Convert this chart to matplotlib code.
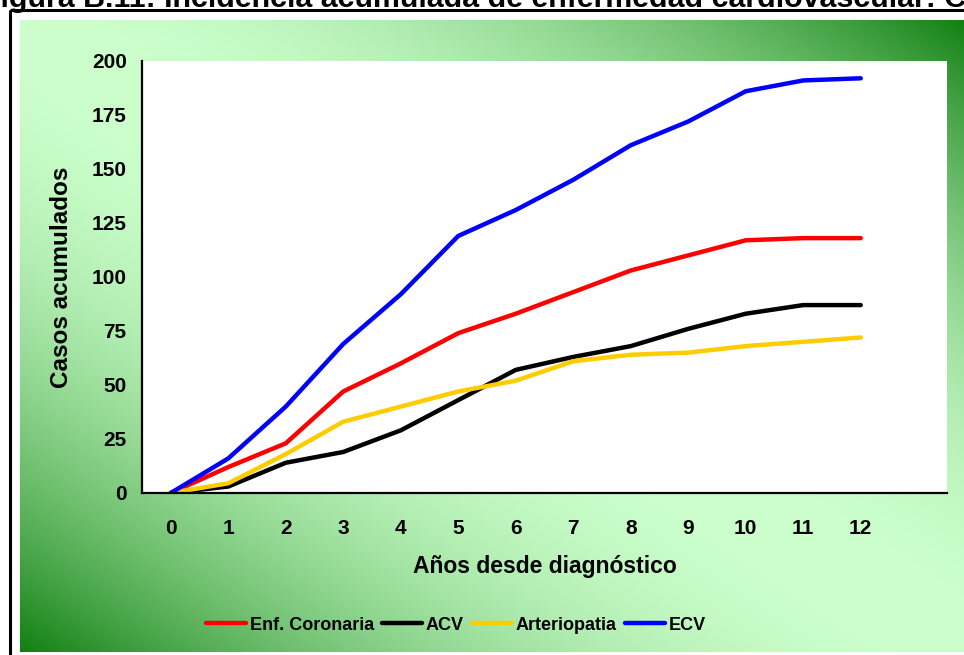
import numpy as np
import matplotlib
matplotlib.use("Agg")
import matplotlib.pyplot as plt
from matplotlib.patches import Rectangle
from matplotlib.lines import Line2D

# ---- data ----
years = [0, 1, 2, 3, 4, 5, 6, 7, 8, 9, 10, 11, 12]
year_labels = ["0", "1", "2", "3", "4", "5", "6", "7", "8", "9", "10", "11", "12"]
enf_coronaria = [0, 12, 23, 47, 60, 74, 83, 93, 103, 110, 117, 118, 118]
acv = [0, 3, 14, 19, 29, 43, 57, 63, 68, 76, 83, 87, 87]
arteriopatia = [0, 4.5, 18, 33, 40, 47, 52, 61, 64, 65, 68, 70, 72]
ecv = [0, 16, 40, 69, 92, 119, 131, 145, 161, 172, 186, 191, 192]
series_names = ["Enf. Coronaria", "ACV", "Arteriopatia", "ECV"]
series_colors = ["#FF0000", "#000000", "#FFCC00", "#0000FF"]
y_ticks = [0, 25, 50, 75, 100, 125, 150, 175, 200]

W, H = 964, 655
plt.rcParams["font.family"] = ["Liberation Sans", "DejaVu Sans"]
plt.rcParams["font.weight"] = "bold"

fig = plt.figure(figsize=(W / 100, H / 100), dpi=100)
fig.patch.set_facecolor("white")

# background layer in pixel coordinates
bg = fig.add_axes([0, 0, 1, 1], zorder=-10)
bg.set_xlim(0, W)
bg.set_ylim(H, 0)
bg.axis("off")

# diagonal two-colour gradient: light on the main diagonal, dark in the other corners
gx0, gx1, gy0, gy1 = 20, 966, 20, 652
nx, ny = 480, 320
u = np.linspace(0, 1, nx)[None, :]
v = np.linspace(0, 1, ny)[:, None]
t = np.abs(u - v) ** 2
light = np.array([204, 255, 204]) / 255.0
dark = np.array([18, 128, 18]) / 255.0
grad = light[None, None, :] * (1 - t[..., None]) + dark[None, None, :] * t[..., None]
bg.imshow(grad, extent=(gx0, gx1, gy1, gy0), aspect="auto", interpolation="bilinear")
bg.add_patch(Rectangle((9.5, 10), 1100, 800, fill=False, edgecolor="black", linewidth=2.2))

# caption line, partly above the page edge
bg.text(-18, 7, "Figura B.11: Incidencia acumulada de enfermedad cardiovascular: CV",
        fontsize=21.9, fontweight="bold", ha="left", va="baseline", color="black")

# ---- plot area ----
left, right, top, bottom = 142, 947, 61, 493
ax = fig.add_axes([left / W, 1 - bottom / H, (right - left) / W, (bottom - top) / H])
ax.set_facecolor("white")

all_series = [enf_coronaria, acv, arteriopatia, ecv]
for vals, name, col in zip(all_series, series_names, series_colors):
    ax.plot(years, vals, color=col, linewidth=3.2, label=name,
            solid_capstyle="round", solid_joinstyle="round")

ax.set_xlim(-0.5, 13.5)
ax.set_ylim(0, 200)
ax.set_xticks(years)
ax.set_xticklabels(year_labels)
ax.set_yticks(y_ticks)
ax.tick_params(axis="both", length=0, labelsize=15)
ax.tick_params(axis="x", pad=19)
ax.tick_params(axis="y", pad=11)
for lbl in ax.get_xticklabels() + ax.get_yticklabels():
    lbl.set_fontweight("bold")
for side in ("top", "right"):
    ax.spines[side].set_visible(False)
for side in ("left", "bottom"):
    ax.spines[side].set_linewidth(1.6)
    ax.spines[side].set_color("black")

fig.text(62 / W, 1 - 277 / H, "Casos acumulados", rotation=90, ha="center", va="center",
         fontsize=17.5, fontweight="bold")
fig.text(545 / W, 1 - 573 / H, "Años desde diagnóstico", ha="center", va="baseline",
         fontsize=16.5, fontweight="bold")

handles = [Line2D([], [], color=c, linewidth=3.2, solid_capstyle="round") for c in series_colors]
leg = fig.legend(handles, series_names, loc="center", bbox_to_anchor=(456 / W, 1 - 625 / H),
                 ncol=4, frameon=False, handlelength=2.2, handletextpad=0.22,
                 columnspacing=0.45, borderpad=0,
                 prop={"weight": "bold", "size": 13})

fig.savefig("out.png", dpi=100)
